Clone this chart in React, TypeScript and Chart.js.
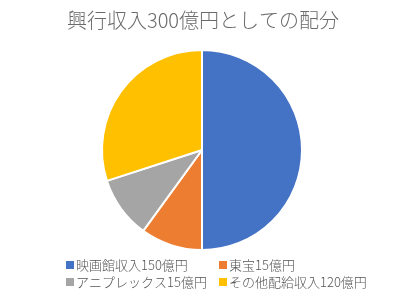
import React, { useEffect, useRef } from "react";
import { Chart, registerables } from "chart.js";

Chart.register(...registerables);

const titleText = "興行収入300億円としての配分";
const categories = ["映画館収入150億円", "東宝15億円", "アニプレックス15億円", "その他配給収入120億円"];
// slice shares as drawn in the picture (percent of the pie)
const values = [50, 10, 10, 30];
const colors = ["#4472C4", "#ED7D31", "#A5A5A5", "#FFC000"];

const FONT = '"Noto Sans CJK JP", "Noto Sans", sans-serif';

const customText = {
  id: "customText",
  afterDraw(chart: any) {
    const ctx = chart.ctx;
    ctx.save();
    // title
    ctx.fillStyle = "#6b6b6b";
    ctx.font = `300 20px ${FONT}`;
    ctx.textAlign = "center";
    ctx.textBaseline = "middle";
    ctx.fillText(titleText, 203, 20);
    // legend (2 columns)
    const labels: string[] = chart.data.labels;
    const bg: string[] = chart.data.datasets[0].backgroundColor;
    const colX = [66, 219];
    const rowY = [265, 282];
    ctx.font = `300 13px ${FONT}`;
    ctx.textAlign = "left";
    labels.forEach((lab, i) => {
      const x = colX[i % 2];
      const y = rowY[Math.floor(i / 2)];
      ctx.fillStyle = bg[i];
      ctx.fillRect(x, y - 4, 8, 8);
      ctx.fillStyle = "#555555";
      ctx.fillText(lab, x + 10, y);
    });
    ctx.restore();
  },
};

export default function App() {
  const ref = useRef<HTMLCanvasElement>(null);
  useEffect(() => {
    if (!ref.current) return;
    const chart = new Chart(ref.current, {
      type: "pie",
      data: {
        labels: categories,
        datasets: [
          {
            data: values,
            backgroundColor: colors,
            borderColor: "#ffffff",
            borderWidth: 2,
          },
        ],
      },
      options: {
        animation: false,
        responsive: false,
        layout: { padding: { top: 49, bottom: 44, left: 4, right: 0 } },
        plugins: {
          legend: { display: false },
          title: { display: false },
          tooltip: { enabled: false },
        },
      },
      plugins: [customText],
    });
    return () => chart.destroy();
  }, []);
  return (
    <div style={{ position: "fixed", left: 0, top: 0, width: 400, height: 295, background: "#fff" }}>
      <canvas ref={ref} width={400} height={295} style={{ width: 400, height: 295 }} />
    </div>
  );
}
